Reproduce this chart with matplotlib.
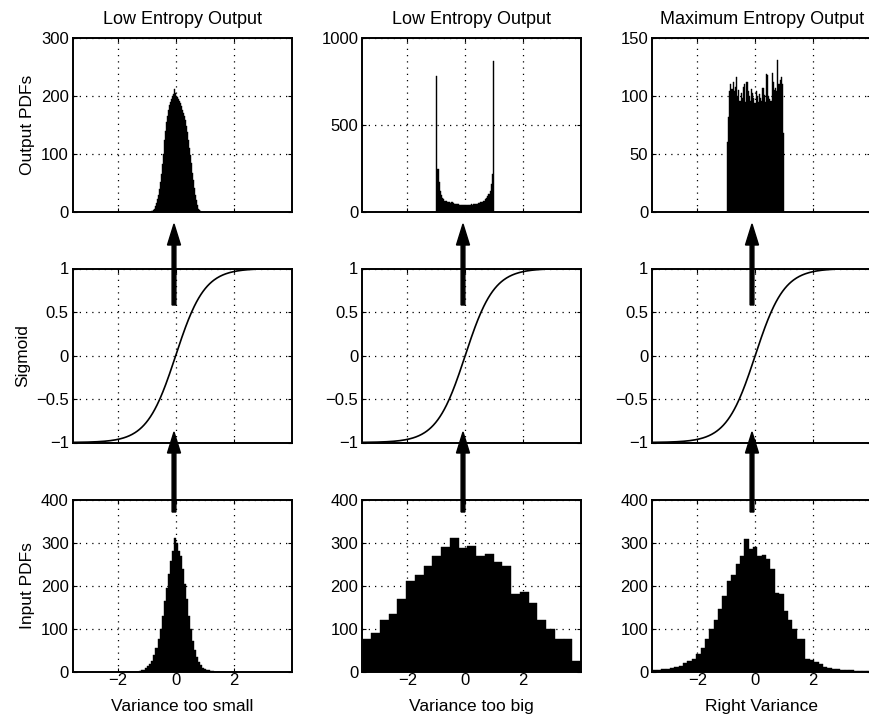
import numpy as np
import matplotlib
matplotlib.use("Agg")
import matplotlib.pyplot as plt
from matplotlib.patches import FancyArrow

plt.rcParams['font.family'] = ['Liberation Sans', 'DejaVu Sans']
plt.rcParams['axes.unicode_minus'] = True

# ---------------- data ----------------
titles = ["Low Entropy Output", "Low Entropy Output", "Maximum Entropy Output"]
xlabels = ["Variance too small", "Variance too big", "Right Variance"]
row_ylabels = ["Output PDFs", "Sigmoid", "Input PDFs"]

# output histograms (top row): bin ranges and counts
out_range_1 = (-0.84, 0.86)
out_counts_1 = [1, 2, 3, 6, 10, 15, 22, 30, 40, 52, 66, 82, 100, 125, 140, 155, 165, 175,
                185, 190, 195, 200, 204, 212, 205, 200, 198, 195, 192, 188, 182, 175, 170,
                165, 158, 148, 138, 125, 110, 98, 85, 68, 55, 42, 30, 20, 12, 6, 3, 1]
out_range_2 = (-1.0, 1.0)
out_counts_2 = [780, 250, 170, 120, 95, 80, 72, 65, 62, 58, 60, 55, 52, 55, 50, 48, 47, 45,
                44, 46, 42, 40, 42, 41, 40, 42, 40, 41, 43, 40, 44, 42, 45, 44, 46, 48, 50,
                52, 55, 58, 62, 66, 72, 80, 90, 105, 120, 160, 220, 870]
out_range_3 = (-0.98, 1.0)
out_counts_3 = [60, 82, 104, 110, 106, 112, 104, 108, 116, 100, 105, 96, 103, 98, 108, 110,
                95, 112, 104, 100, 96, 106, 103, 98, 94, 104, 100, 95, 102, 98, 96, 107, 101,
                95, 119, 118, 100, 97, 96, 120, 112, 105, 107, 104, 131, 110, 114, 116, 110, 68]

# input histograms (bottom row)
in_range_1 = (-1.75, 1.75)
in_counts_1 = [0, 0, 0, 0, 0, 0, 0, 2, 3, 4, 7, 12, 18, 25, 38, 55, 75, 100, 130, 165, 195,
               228, 258, 280, 312, 300, 282, 270, 240, 205, 168, 130, 100, 72, 50, 33, 22,
               14, 9, 6, 4, 3, 2, 1, 0, 0, 0, 0, 0, 0]
in_range_2 = (-3.55, 4.0)
in_counts_2 = [75, 90, 120, 135, 170, 210, 225, 245, 270, 290, 312, 288, 292, 270, 275, 255,
               245, 180, 185, 160, 120, 100, 75, 75, 25]
in_range_3 = (-3.55, 4.0)
in_counts_3 = [3, 3, 5, 6, 8, 10, 13, 20, 25, 30, 40, 55, 75, 100, 120, 145, 175, 210, 225,
               250, 270, 310, 285, 290, 270, 272, 262, 240, 182, 180, 140, 120, 100, 75, 75,
               30, 27, 22, 18, 10, 8, 6, 5, 4, 4, 3, 2, 2, 1, 1]

# sigmoid (tanh) sample points
sig_x = np.linspace(-3.55, 4.0, 300)

out_ranges = [out_range_1, out_range_2, out_range_3]
out_counts = [out_counts_1, out_counts_2, out_counts_3]
in_ranges = [in_range_1, in_range_2, in_range_3]
in_counts = [in_counts_1, in_counts_2, in_counts_3]
out_ylims = [(0, 300), (0, 1000), (0, 150)]
out_yticks = [[0, 100, 200, 300], [0, 500, 1000], [0, 50, 100, 150]]

XLIM = (-3.55, 4.0)
TICK_FS = 12
LABEL_FS = 12.5
TITLE_FS = 13

# ---------------- layout ----------------
W, H = 870, 719
fig = plt.figure(figsize=(W / 100, H / 100), dpi=100)

col_left = [73, 362.5, 652.5]
ax_w = 218.5
row_top = [38, 268.5, 500]
row_h = [174, 174, 171.5]


def add_ax(c, r):
    l = col_left[c] / W
    b = 1 - (row_top[r] + row_h[r]) / H
    return fig.add_axes([l, b, ax_w / W, row_h[r] / H])


def style(ax):
    ax.set_xlim(*XLIM)
    ax.set_xticks([-2, 0, 2])
    ax.grid(True, color='black', linestyle=(0, (1, 4)), linewidth=0.9)
    ax.set_axisbelow(False)
    for s in ax.spines.values():
        s.set_linewidth(1.4)
    ax.tick_params(direction='in', length=3, width=0.8, top=True, right=True,
                   labelsize=TICK_FS, pad=3)
    ax.tick_params(axis='x', pad=1.2)


def draw_hist(ax, rng, counts):
    n = len(counts)
    edges = np.linspace(rng[0], rng[1], n + 1)
    centers = 0.5 * (edges[:-1] + edges[1:])
    ax.bar(centers, counts, width=edges[1] - edges[0], color='black',
           edgecolor='black', linewidth=0.3, zorder=2)


for c in range(3):
    # top row
    ax = add_ax(c, 0)
    draw_hist(ax, out_ranges[c], out_counts[c])
    style(ax)
    ax.set_ylim(*out_ylims[c])
    ax.set_yticks(out_yticks[c])
    ax.set_xticklabels([])
    ax.set_title(titles[c], fontsize=TITLE_FS, pad=10)
    if c == 0:
        ax.set_ylabel(row_ylabels[0], fontsize=LABEL_FS, labelpad=4)

    # middle row
    ax = add_ax(c, 1)
    ax.plot(sig_x, np.tanh(sig_x), color='black', linewidth=1.2, zorder=3)
    style(ax)
    ax.set_ylim(-1, 1)
    ax.set_yticks([-1, -0.5, 0, 0.5, 1])
    ax.set_yticklabels(['\u22121', '\u22120.5', '0', '0.5', '1'])
    ax.set_xticklabels([])
    if c == 0:
        ax.set_ylabel(row_ylabels[1], fontsize=LABEL_FS, labelpad=4)

    # bottom row
    ax = add_ax(c, 2)
    draw_hist(ax, in_ranges[c], in_counts[c])
    style(ax)
    ax.set_ylim(0, 400)
    ax.set_yticks([0, 100, 200, 300, 400])
    ax.set_xticklabels(['\u22122', '0', '2'])
    ax.set_xlabel(xlabels[c], fontsize=LABEL_FS, labelpad=8)
    if c == 0:
        ax.set_ylabel(row_ylabels[2], fontsize=LABEL_FS, labelpad=4)

# ---------------- arrows (figure pixel positions) ----------------
arrow_x = [174, 463, 752]
for xa in arrow_x:
    for (y_start, y_tip) in [(512, 432), (305, 224)]:
        x_in = xa / 100
        y0 = (H - y_start) / 100
        length = (y_start - y_tip) / 100
        fig.add_artist(FancyArrow(x_in, y0, 0, length, width=0.038,
                                  head_width=0.13, head_length=0.21,
                                  length_includes_head=True, color='black',
                                  transform=fig.dpi_scale_trans, zorder=10))

fig.savefig("out.png", dpi=100)
